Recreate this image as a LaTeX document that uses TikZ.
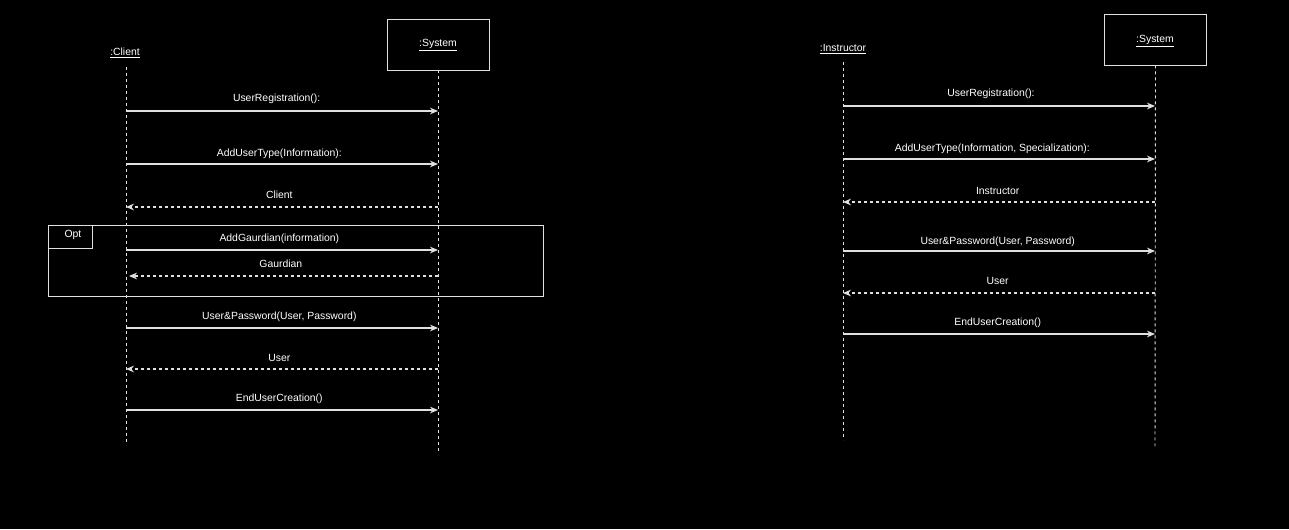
\documentclass[tikz,border=0pt]{standalone}
\usepackage{fontspec}
\setmainfont{Liberation Sans}
\usetikzlibrary{arrows.meta, positioning, calc}
\definecolor{lineGray}{gray}{0.88}

\begin{document}
\begin{tikzpicture}[x=0.75pt, y=-0.75pt, >={Stealth[length=6pt, width=5pt]},
    font=\fontsize{7.8}{9}\selectfont,
    every node/.style={text=white},
    msg/.style={->, lineGray, line width=0.8pt},
    reply/.style={msg, dash pattern=on 2.5pt off 2pt},
    life/.style={lineGray, line width=0.7pt, dash pattern=on 2.25pt off 2.25pt},
    objbox/.style={draw=lineGray, line width=0.7pt, minimum width=76.5pt, minimum height=38.25pt}]
    \fill[black] (0,0) rectangle (1289,529);
    \useasboundingbox (0,0) rectangle (1289,529);

    % left diagram
    \node (cli) at (125,53) {\underline{:Client}};
    \node[objbox] (sysA) at (438,44.5) {};
    \node (sysAName) at (438,45.5) {\underline{:System}};
    \coordinate (cliTop) at (126,67);
    \coordinate (cliEnd) at (126,445);
    \coordinate (sysAEnd) at (438,452);
    \draw[life] (cliTop) -- (cliEnd);
    \draw[life] (sysA.south) -- (sysAEnd);

    % opt fragment
    \draw[lineGray, line width=0.7pt] (48,225) rectangle (543,296);
    \node[draw=lineGray, line width=0.7pt, anchor=north west, minimum width=33pt, minimum height=17.25pt,
        inner sep=0pt] (optTag) at (48,225) {};
    \node (opt) at (73,235) {Opt};

    \coordinate (c1) at (126,111); \coordinate (s1) at (438,111);
    \coordinate (c2) at (126,164); \coordinate (s2) at (438,164);
    \coordinate (c3) at (126,207); \coordinate (s3) at (438,207);
    \coordinate (c4) at (126,250); \coordinate (s4) at (438,250);
    \coordinate (c5) at (129,276); \coordinate (s5) at (438,276);
    \coordinate (c6) at (126,328); \coordinate (s6) at (438,328);
    \coordinate (c7) at (126,369); \coordinate (s7) at (438,369);
    \coordinate (c8) at (126,410); \coordinate (s8) at (438,410);

    \draw[msg] (c1) -- (s1) node[midway, yshift=9pt, xshift=-4pt] {UserRegistration():};
    \draw[msg] (c2) -- (s2) node[midway, yshift=7.5pt, xshift=-2pt] {AddUserType(Information):};
    \draw[reply] (s3) -- (c3) node[midway, yshift=9pt, xshift=-2pt] {Client};
    \draw[msg] (c4) -- (s4) node[midway, yshift=8.5pt, xshift=-2pt] {AddGaurdian(information)};
    \draw[reply] (s5) -- (c5) node[midway, yshift=9.5pt, xshift=-2pt] {Gaurdian};
    \draw[msg] (c6) -- (s6) node[midway, yshift=8.5pt, xshift=-2pt] {User\&Password(User, Password)};
    \draw[reply] (s7) -- (c7) node[midway, yshift=8.5pt, xshift=-2pt] {User};
    \draw[msg] (c8) -- (s8) node[midway, yshift=8.5pt, xshift=-2pt] {EndUserCreation()};

    % right diagram
    \node (ins) at (843,49) {\underline{:Instructor}};
    \node[objbox] (sysB) at (1155.5,39.5) {};
    \node (sysBName) at (1155,41.5) {\underline{:System}};
    \coordinate (insTop) at (843,62);
    \coordinate (insEnd) at (843,440);
    \coordinate (sysBEnd) at (1155,447);
    \draw[life] (insTop) -- (insEnd);
    \draw[life] (sysB.south) -- (sysBEnd);

    \coordinate (i1) at (843,106); \coordinate (t1) at (1155,106);
    \coordinate (i2) at (843,159); \coordinate (t2) at (1155,159);
    \coordinate (i3) at (843,202); \coordinate (t3) at (1155,202);
    \coordinate (i4) at (843,251); \coordinate (t4) at (1155,251);
    \coordinate (i5) at (843,293); \coordinate (t5) at (1155,293);
    \coordinate (i6) at (843,334); \coordinate (t6) at (1155,334);

    \draw[msg] (i1) -- (t1) node[midway, yshift=9pt, xshift=-6pt] {UserRegistration():};
    \draw[msg] (i2) -- (t2) node[midway, yshift=7.75pt, xshift=-5pt] {AddUserType(Information, Specialization):};
    \draw[reply] (t3) -- (i3) node[midway, yshift=8.5pt, xshift=-1pt] {Instructor};
    \draw[msg] (i4) -- (t4) node[midway, yshift=7.25pt, xshift=-1pt] {User\&Password(User, Password)};
    \draw[reply] (t5) -- (i5) node[midway, yshift=9pt, xshift=-1pt] {User};
    \draw[msg] (i6) -- (t6) node[midway, yshift=8.5pt, xshift=-1pt] {EndUserCreation()};
\end{tikzpicture}
\end{document}
